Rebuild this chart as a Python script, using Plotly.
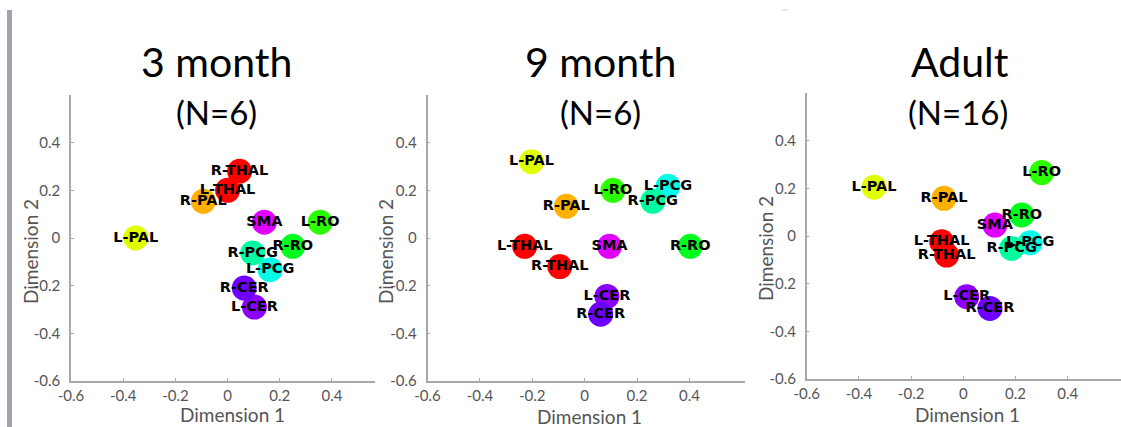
import plotly.graph_objects as go

W, H = 1121, 427

regions = ["L-PAL", "R-PAL", "L-THAL", "R-THAL", "SMA", "L-RO", "R-RO",
           "L-PCG", "R-PCG", "L-CER", "R-CER"]
region_colors = ["#DFFF00", "#FFB000", "#FF0000", "#FF0000", "#E000FF", "#2BFF00",
                 "#00FF1E", "#00FFE8", "#00FFA0", "#8C00FF", "#6E00FF"]

# 3 month (N=6)
x_3m = [-0.352, -0.093, 0.000, 0.046, 0.141, 0.355, 0.250, 0.163, 0.096, 0.103, 0.064]
y_3m = [0.000, 0.154, 0.200, 0.280, 0.066, 0.066, -0.035, -0.133, -0.063, -0.290, -0.210]
# 9 month (N=6)
x_9m = [-0.203, -0.070, -0.229, -0.095, 0.095, 0.108, 0.403, 0.318, 0.260, 0.085, 0.061]
y_9m = [0.320, 0.133, -0.035, -0.120, -0.035, 0.200, -0.035, 0.217, 0.154, -0.245, -0.320]
# Adult (N=16)
x_ad = [-0.342, -0.074, -0.083, -0.064, 0.121, 0.300, 0.224, 0.256, 0.185, 0.013, 0.102]
y_ad = [0.205, 0.158, -0.024, -0.080, 0.046, 0.266, 0.088, -0.028, -0.052, -0.255, -0.304]

titles = ["3 month", "9 month", "Adult"]
subtitles = ["(N=6)", "(N=6)", "(N=16)"]
tick_vals = [-0.6, -0.4, -0.2, 0, 0.2, 0.4]
tick_text = ["-0.6", "-0.4", "-0.2", "0", "0.2", "0.4"]

panels = [(x_3m, y_3m), (x_9m, y_9m), (x_ad, y_ad)]

# pixel geometry of each panel: (x_left, x_right, xmax, y_top, y_bottom)
geom = [
    (71.0, 375.0, 0.565, 95.0, 381.0),
    (427.5, 745.0, 0.612, 95.0, 381.0),
    (806.7, 1121.0, 0.604, 93.0, 379.0),
]
title_pos = [(216, 216), (600, 600), (960, 958)]
xlab_pos = [(232, 414), (589, 416), (967, 414)]
ylab_pos = [(30, 252), (385, 252), (765, 249)]

fig = go.Figure()
annotations = []
for i, ((xs, ys), (xl, xr, xmax, yt, yb)) in enumerate(zip(panels, geom)):
    n = "" if i == 0 else str(i + 1)
    fig.add_trace(go.Scatter(
        x=xs, y=ys, mode="markers+text", text=regions,
        textposition="middle center",
        textfont=dict(family="DejaVu Sans", size=14.5, color="black", weight="bold"),
        marker=dict(size=25, color=region_colors, line=dict(width=0)),
        xaxis="x" + n, yaxis="y" + n, showlegend=False, cliponaxis=False,
        hoverinfo="skip",
    ))
    axis_common = dict(
        showgrid=False, zeroline=False, showline=True, linecolor="#A8A8A8",
        linewidth=1.5, ticks="inside", ticklen=3, tickcolor="#A8A8A8",
        tickvals=tick_vals, ticktext=tick_text, automargin=False,
        tickfont=dict(family="Lato", size=15, color="#555555"),
    )
    fig.update_layout(**{
        "xaxis" + n: dict(axis_common, domain=[xl / W, xr / W], range=[-0.6, xmax],
                          anchor="y" + n, ticklabelstandoff=0),
        "yaxis" + n: dict(axis_common, domain=[1 - yb / H, 1 - yt / H], range=[-0.6, 0.6],
                          anchor="x" + n, ticklabelstandoff=6),
    })
    tx, sx = title_pos[i]
    annotations.append(dict(text=titles[i], x=tx / W, y=1 - 62 / H, xref="paper", yref="paper",
                            showarrow=False, xanchor="center", yanchor="middle",
                            font=dict(family="Lato", size=41, color="black")))
    annotations.append(dict(text=subtitles[i], x=sx / W, y=1 - 112 / H, xref="paper", yref="paper",
                            showarrow=False, xanchor="center", yanchor="middle",
                            font=dict(family="Lato", size=33, color="black")))
    lx, ly = xlab_pos[i]
    annotations.append(dict(text="Dimension 1", x=lx / W, y=1 - ly / H, xref="paper", yref="paper",
                            showarrow=False, xanchor="center", yanchor="middle",
                            font=dict(family="Lato", size=19, color="#555555")))
    vx, vy = ylab_pos[i]
    annotations.append(dict(text="Dimension 2", x=vx / W, y=1 - vy / H, xref="paper", yref="paper",
                            showarrow=False, xanchor="center", yanchor="middle", textangle=-90,
                            font=dict(family="Lato", size=19, color="#555555")))

shapes = [
    dict(type="rect", xref="paper", yref="paper", x0=7 / W, x1=12 / W, y0=0, y1=1 - 10 / H,
         fillcolor="#A0A4AE", line=dict(width=0), layer="below"),
    dict(type="line", xref="paper", yref="paper", x0=782 / W, x1=788 / W, y0=1 - 10 / H, y1=1 - 10 / H,
         line=dict(color="#D0D0D0", width=1)),
]

fig.update_layout(
    width=W, height=H, margin=dict(l=0, r=0, t=0, b=0, pad=0, autoexpand=False),
    paper_bgcolor="white", plot_bgcolor="white",
    annotations=annotations, shapes=shapes,
)

fig.write_html("out.html", config={"displayModeBar": False},
               post_script="document.body.style.margin='0px';document.body.style.overflow='hidden';")
